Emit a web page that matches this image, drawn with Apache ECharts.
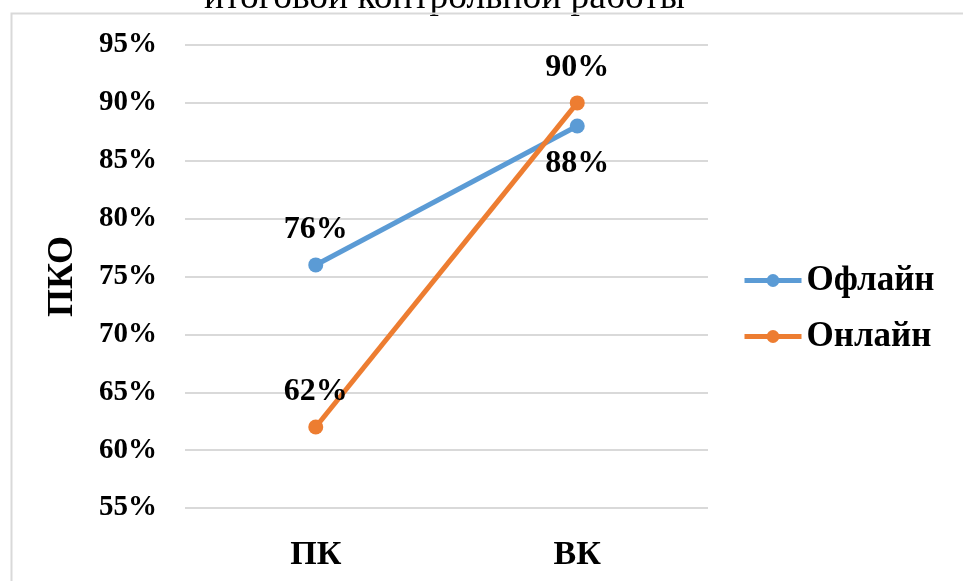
<!DOCTYPE html>
<html>
<head>
<meta charset="utf-8">
<script src="https://cdn.jsdelivr.net/npm/echarts@6/dist/echarts.min.js"></script>
<style>
  html, body { margin: 0; padding: 0; background: #fff; }
  #chart { width: 963px; height: 581px; }
</style>
</head>
<body>
<div id="chart"></div>
<script>
// Stages of the test and share of correct answers per group
const categories = ['ПК', 'ВК'];
const offlineValues = [0.76, 0.88];
const onlineValues = [0.62, 0.90];
const seriesNames = ['Офлайн', 'Онлайн'];
const yTicks = { min: 0.55, max: 0.95, step: 0.05 };
const axisName = 'ПКО';
const titleTail = 'итоговой контрольной работы';

const serif = '"Liberation Serif", "DejaVu Serif", serif';
const pct = v => Math.round(v * 100) + '%';

const labelStyle = {
  show: true, fontFamily: serif, fontWeight: 'bold', fontSize: 32, color: '#000',
  position: 'top', distance: 12,
  formatter: p => pct(p.value)
};

const chart = echarts.init(document.getElementById('chart'));
chart.setOption({
  animation: false,
  backgroundColor: '#fff',
  textStyle: { fontFamily: serif },
  graphic: [
    {
      type: 'text',
      x: 204, y: -21,
      style: { text: titleTail, font: '37.5px ' + serif, fill: '#000' }
    },
    {
      type: 'polyline',
      shape: { points: [[11.5, 600], [11.5, 13.5], [980, 13.5]] },
      style: { stroke: '#d9d9d9', lineWidth: 2, fill: null }
    }
  ],
  grid: { left: 185, right: 255, top: 45, bottom: 73 },
  legend: {
    orient: 'vertical',
    left: 737, top: 258,
    itemWidth: 57, itemHeight: 16, itemGap: 21,
    lineStyle: { width: 5 },
    textStyle: { fontFamily: serif, fontWeight: 'bold', fontSize: 35, color: '#000' },
    data: seriesNames
  },
  xAxis: {
    type: 'category',
    data: categories,
    boundaryGap: true,
    axisLine: { show: false },
    axisTick: { show: false },
    axisLabel: { fontFamily: serif, fontWeight: 'bold', fontSize: 34, color: '#000', margin: 30 }
  },
  yAxis: {
    type: 'value',
    min: yTicks.min, max: yTicks.max, interval: yTicks.step,
    name: axisName,
    nameLocation: 'middle',
    nameGap: 104,
    nameRotate: 90,
    nameTextStyle: { fontFamily: serif, fontWeight: 'bold', fontSize: 36, color: '#000' },
    axisLine: { show: false },
    axisTick: { show: false },
    splitLine: { lineStyle: { color: '#d9d9d9', width: 2 } },
    axisLabel: {
      fontFamily: serif, fontWeight: 'bold', fontSize: 29, color: '#000', margin: 28,
      formatter: v => pct(v)
    }
  },
  series: [
    {
      name: seriesNames[0], type: 'line',
      color: '#5B9BD5',
      symbol: 'circle', symbolSize: 15,
      lineStyle: { width: 5 },
      label: labelStyle,
      data: [
        { value: offlineValues[0] },
        { value: offlineValues[1], label: { position: 'bottom', distance: 14 } }
      ]
    },
    {
      name: seriesNames[1], type: 'line',
      color: '#ED7D31',
      symbol: 'circle', symbolSize: 15,
      lineStyle: { width: 5 },
      label: labelStyle,
      data: [
        { value: onlineValues[0] },
        { value: onlineValues[1] }
      ]
    }
  ]
});
</script>
</body>
</html>
